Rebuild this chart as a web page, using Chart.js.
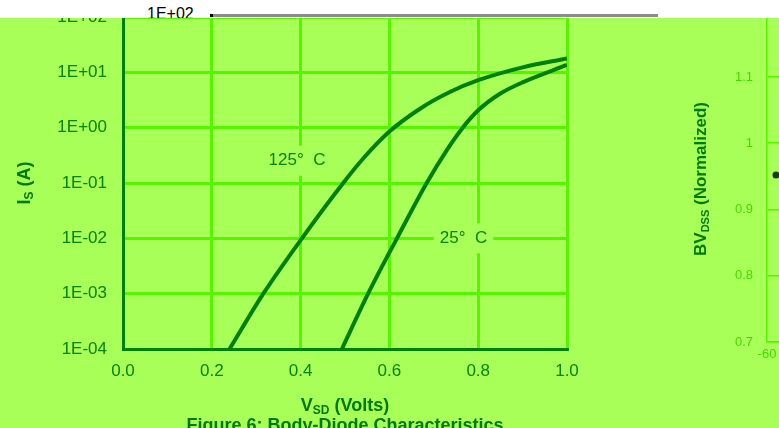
<!DOCTYPE html>
<html>
<head>
<meta charset="utf-8">
<script src="https://cdn.jsdelivr.net/npm/chart.js@4.4.1/dist/chart.umd.min.js"></script>
<style>
    html, body { margin: 0; padding: 0; }
    body {
        width: 779px; height: 428px; overflow: hidden; position: relative;
        background: #a8ff58; font-family: "Liberation Sans", Arial, sans-serif;
    }
    #diagram { position: absolute; left: 0; top: 0; }
    #bvdiagram { position: absolute; left: 600px; top: 0; }
    #topstrip {
        position: absolute; left: 0; top: 0; width: 779px; height: 18px;
        background: #fff; overflow: hidden; z-index: 2;
    }
    #topstrip .lbl { position: absolute; left: 147px; top: 6px; font-size: 16px; line-height: 16px; color: #000; }
    #topstrip .rule { position: absolute; left: 212px; top: 14px; width: 446px; height: 3px; background: #8c8c8c; }
    #topstrip .dot { position: absolute; left: 210px; top: 14px; width: 3px; height: 3px; background: #000; }
</style>
</head>
<body>
<canvas id="diagram" width="779" height="428"></canvas>
<canvas id="bvdiagram" width="400" height="428"></canvas>
<div id="topstrip"><span class="lbl">1E+02</span><div class="rule"></div><div class="dot"></div></div>
<script>
// body-diode curves
const voltage125 = [0.24, 0.316, 0.403, 0.496, 0.541, 0.6, 0.669, 0.736, 0.8, 0.9, 1.0];
const current125 = [1e-4, 1e-3, 1e-2, 1e-1, 0.277, 0.85, 2.2, 4.4, 7.2, 12.3, 17.8];
const voltage25 = [0.493, 0.552, 0.617, 0.684, 0.729, 0.763, 0.8, 0.849, 0.9, 1.0];
const current25 = [1e-4, 1e-3, 1e-2, 1e-1, 0.39, 0.95, 2.06, 4.1, 6.6, 13.6];
const seriesNames = ['125°  C', '25°  C'];

const xTickValues = [0, 0.2, 0.4, 0.6, 0.8, 1.0];
const xTickLabels = ['0.0', '0.2', '0.4', '0.6', '0.8', '1.0'];
const yTickValues = [1e-4, 1e-3, 1e-2, 1e-1, 1, 10, 100];
const yTickLabels = ['1E-04', '1E-03', '1E-02', '1E-01', '1E+00', '1E+01', '1E+02'];

// neighbouring chart (only its axis shows)
const bvTemps = [-50];
const bvValues = [0.952];
const bvXTickValues = [-60, -20, 20, 60, 100, 140, 180];
const bvXTickLabels = ['-60', '-20', '20', '60', '100', '140', '180'];
const bvYTickValues = [0.7, 0.8, 0.9, 1.0, 1.1, 1.2];
const bvYTickLabels = ['0.7', '0.8', '0.9', '1', '1.1', '1.2'];

const BG = '#a8ff58';
const GRID = '#55f500';
const DARK = '#008000';
const TEXT = '#058305';
const FONT = '"Liberation Sans", Arial, sans-serif';

window.onload = init;

function init() {
    createChart();
    createBvChart();
}

function richText(ctx, parts, cx, cy) {
    let total = 0;
    parts.forEach(p => { ctx.font = p.font; p.w = ctx.measureText(p.t).width; total += p.w; });
    let px = cx - total / 2;
    parts.forEach(p => {
        ctx.font = p.font;
        ctx.fillText(p.t, px, cy + (p.dy || 0));
        px += p.w;
    });
}

// keep tick padding from pushing the plot area down
function fixWidth(w) {
    return s => {
        s.width = w;
        s.paddingTop = 0;
        s.paddingBottom = 0;
    };
}

function createChart() {
    const ctx = document.getElementById('diagram').getContext('2d');

    const labelSpots = [{ x: 0.392, y: 0.253 }, { x: 0.767, y: 0.01 }];

    const curveLabels = {
        id: 'curveLabels',
        beforeDatasetsDraw(chart) {
            const { ctx, scales: { x, y } } = chart;
            ctx.save();
            ctx.font = '17px ' + FONT;
            ctx.textAlign = 'center';
            ctx.textBaseline = 'middle';
            labelSpots.forEach((spot, i) => {
                const px = x.getPixelForValue(spot.x);
                const py = y.getPixelForValue(spot.y);
                const w = ctx.measureText(seriesNames[i]).width + 12;
                ctx.fillStyle = BG;
                ctx.fillRect(px - w / 2, py - 15, w, 30);
                ctx.fillStyle = TEXT;
                ctx.fillText(seriesNames[i], px, py);
            });
            ctx.restore();
        }
    };

    const titles = {
        id: 'titles',
        afterDraw(chart) {
            const { ctx, chartArea } = chart;
            const cx = (chartArea.left + chartArea.right) / 2;
            ctx.save();
            ctx.fillStyle = '#007a00';
            ctx.textAlign = 'left';
            ctx.textBaseline = 'middle';
            richText(ctx, [
                { t: 'V', font: 'bold 18px ' + FONT },
                { t: 'SD', font: 'bold 12px ' + FONT, dy: 5 },
                { t: ' (Volts)', font: 'bold 18px ' + FONT }
            ], cx, 406);
            richText(ctx, [
                { t: 'Figure 6: Body-Diode Characteristics', font: 'bold 18px ' + FONT }
            ], cx, 426);
            ctx.translate(25, 183);
            ctx.rotate(-Math.PI / 2);
            richText(ctx, [
                { t: 'I', font: 'bold 18px ' + FONT },
                { t: 'S', font: 'bold 12px ' + FONT, dy: 5 },
                { t: ' (A)', font: 'bold 18px ' + FONT }
            ], 0, 0);
            ctx.restore();
        }
    };

    new Chart(ctx, {
        type: 'line',
        data: {
            datasets: [
                {
                    label: seriesNames[0],
                    data: voltage125.map((v, i) => ({ x: v, y: current125[i] })),
                    borderColor: DARK,
                    borderWidth: 4,
                    pointRadius: 0,
                    cubicInterpolationMode: 'monotone'
                },
                {
                    label: seriesNames[1],
                    data: voltage25.map((v, i) => ({ x: v, y: current25[i] })),
                    borderColor: DARK,
                    borderWidth: 4,
                    pointRadius: 0,
                    cubicInterpolationMode: 'monotone'
                }
            ]
        },
        options: {
            responsive: false,
            animation: false,
            layout: { padding: { left: 0, right: 212, top: 17, bottom: 0 } },
            plugins: { legend: { display: false }, tooltip: { enabled: false } },
            scales: {
                x: {
                    type: 'linear',
                    min: 0,
                    max: 1,
                    afterFit: s => { s.height = 79; },
                    afterBuildTicks: s => { s.ticks = xTickValues.map(v => ({ value: v })); },
                    grid: { color: GRID, lineWidth: 3, drawTicks: false },
                    border: { color: DARK, width: 3 },
                    ticks: {
                        padding: 12,
                        color: TEXT,
                        font: { family: FONT, size: 17 },
                        callback: (value, index) => xTickLabels[index]
                    }
                },
                y: {
                    type: 'logarithmic',
                    min: 1e-4,
                    max: 100,
                    afterFit: fixWidth(123),
                    afterBuildTicks: s => { s.ticks = yTickValues.map(v => ({ value: v })); },
                    grid: { color: GRID, lineWidth: 3, drawTicks: false },
                    border: { color: DARK, width: 3 },
                    ticks: {
                        padding: 16,
                        color: TEXT,
                        font: { family: FONT, size: 17 },
                        callback: (value, index) => yTickLabels[index]
                    }
                }
            }
        },
        plugins: [curveLabels, titles]
    });
}

function createBvChart() {
    const ctx = document.getElementById('bvdiagram').getContext('2d');

    const bvTitle = {
        id: 'bvTitle',
        afterDraw(chart) {
            const { ctx } = chart;
            ctx.save();
            ctx.fillStyle = '#007a00';
            ctx.textAlign = 'left';
            ctx.textBaseline = 'middle';
            ctx.translate(101, 179);
            ctx.rotate(-Math.PI / 2);
            richText(ctx, [
                { t: 'BV', font: 'bold 17px ' + FONT },
                { t: 'DSS', font: 'bold 11px ' + FONT, dy: 5 },
                { t: ' (Normalized)', font: 'bold 17px ' + FONT }
            ], 0, 0);
            ctx.restore();
        }
    };

    new Chart(ctx, {
        type: 'line',
        data: {
            datasets: [{
                label: 'BVDSS',
                data: bvTemps.map((t, i) => ({ x: t, y: bvValues[i] })),
                borderColor: '#1a3a1a',
                backgroundColor: '#1a3a1a',
                borderWidth: 2,
                pointRadius: 2.5
            }]
        },
        options: {
            responsive: false,
            animation: false,
            layout: { padding: { left: 0, right: 17, top: 10.75, bottom: 0 } },
            plugins: { legend: { display: false }, tooltip: { enabled: false } },
            scales: {
                x: {
                    type: 'linear',
                    min: -60,
                    max: 180,
                    afterFit: s => { s.height = 86; },
                    afterBuildTicks: s => { s.ticks = bvXTickValues.map(v => ({ value: v })); },
                    grid: { display: false },
                    border: { color: GRID, width: 1.5 },
                    ticks: {
                        padding: -3,
                        color: '#45d800',
                        font: { family: FONT, size: 13 },
                        callback: (value, index) => bvXTickLabels[index]
                    }
                },
                y: {
                    type: 'linear',
                    min: 0.7,
                    max: 1.2,
                    afterFit: fixWidth(167),
                    afterBuildTicks: s => { s.ticks = bvYTickValues.map(v => ({ value: v })); },
                    grid: { color: GRID, lineWidth: 1.5, drawTicks: false },
                    border: { color: GRID, width: 1.5 },
                    ticks: {
                        padding: 14,
                        color: '#45d800',
                        font: { family: FONT, size: 13 },
                        callback: (value, index) => bvYTickLabels[index]
                    }
                }
            }
        },
        plugins: [bvTitle]
    });
}
</script>
</body>
</html>
